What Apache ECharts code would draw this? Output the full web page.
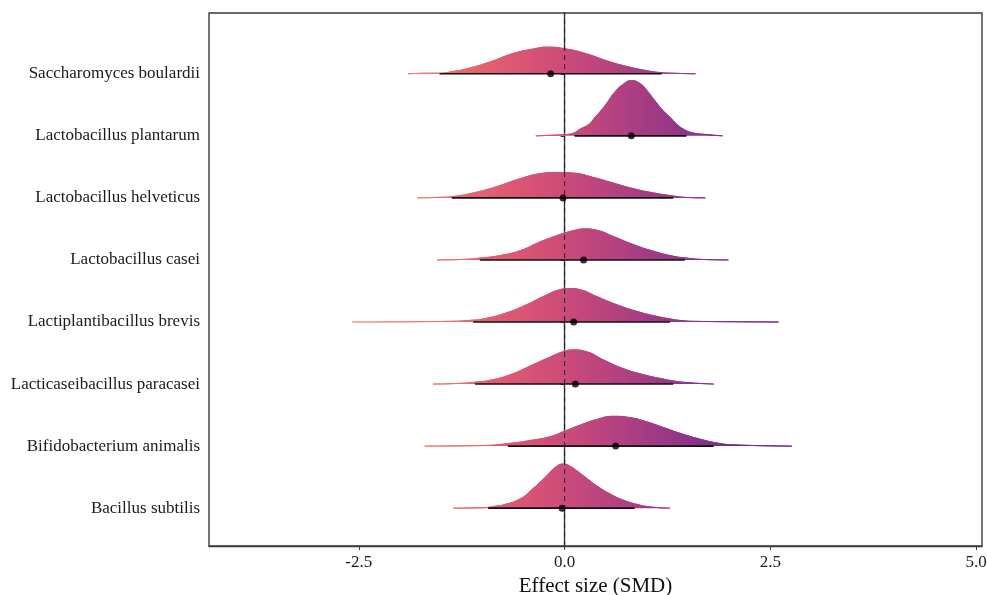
<!DOCTYPE html>
<html>
<head>
<meta charset="utf-8">
<script src="https://cdn.jsdelivr.net/npm/echarts@6/dist/echarts.min.js"></script>
<style>
  html, body { margin: 0; padding: 0; background: #ffffff; }
  #chart { width: 987px; height: 595px; }
</style>
</head>
<body>
<div id="chart"></div>
<script>
// Strains, listed top to bottom
const strains = [
  'Saccharomyces boulardii',
  'Lactobacillus plantarum',
  'Lactobacillus helveticus',
  'Lactobacillus casei',
  'Lactiplantibacillus brevis',
  'Lacticaseibacillus paracasei',
  'Bifidobacterium animalis',
  'Bacillus subtilis'
];

// Point estimate (SMD) and interval bounds per strain
const pointEstimate = [-0.17, 0.81, -0.02, 0.23, 0.11, 0.13, 0.62, -0.03];
const intervalLow   = [-1.52, 0.12, -1.37, -1.03, -1.11, -1.09, -0.69, -0.93];
const intervalHigh  = [1.18, 1.48, 1.32, 1.46, 1.28, 1.32, 1.81, 0.85];

// Density curves: [effect size, height in row units]
const densityBoulardii = [[-1.90,0],[-1.64,0.01],[-1.52,0.01],[-1.35,0.04],[-1.19,0.08],[-0.91,0.19],[-0.62,0.33],[-0.38,0.40],[-0.22,0.43],[0.02,0.40],[0.27,0.32],[0.51,0.21],[0.75,0.12],[1.00,0.05],[1.16,0.02],[1.30,0.01],[1.59,0]];
const densityPlantarum = [[-0.35,0],[-0.16,0.01],[0.00,0.02],[0.10,0.04],[0.19,0.11],[0.30,0.19],[0.37,0.30],[0.45,0.42],[0.53,0.56],[0.60,0.69],[0.70,0.82],[0.81,0.89],[0.92,0.84],[1.00,0.73],[1.10,0.56],[1.20,0.40],[1.28,0.30],[1.36,0.19],[1.44,0.11],[1.55,0.05],[1.73,0.02],[1.92,0]];
const densityHelveticus = [[-1.79,0],[-1.50,0.01],[-1.37,0.02],[-1.11,0.08],[-0.83,0.18],[-0.54,0.31],[-0.30,0.39],[-0.10,0.41],[0.10,0.40],[0.35,0.33],[0.59,0.24],[0.83,0.15],[1.08,0.08],[1.32,0.03],[1.44,0.01],[1.71,0]];
const densityCasei = [[-1.55,0],[-1.21,0.01],[-1.03,0.03],[-0.79,0.07],[-0.54,0.15],[-0.30,0.29],[-0.10,0.39],[0.10,0.47],[0.25,0.50],[0.39,0.48],[0.59,0.38],[0.83,0.25],[1.08,0.14],[1.32,0.06],[1.48,0.03],[1.64,0.01],[1.99,0]];
const densityBrevis = [[-2.58,0],[-1.43,0.01],[-1.11,0.03],[-0.95,0.06],[-0.70,0.15],[-0.46,0.28],[-0.26,0.41],[-0.06,0.52],[0.06,0.54],[0.19,0.52],[0.39,0.41],[0.63,0.28],[0.88,0.17],[1.12,0.09],[1.28,0.05],[1.44,0.02],[1.60,0.01],[2.60,0]];
const densityParacasei = [[-1.60,0],[-1.29,0.01],[-1.09,0.03],[-0.91,0.06],[-0.66,0.15],[-0.42,0.29],[-0.22,0.41],[-0.02,0.52],[0.10,0.55],[0.27,0.52],[0.47,0.39],[0.71,0.25],[0.96,0.15],[1.20,0.08],[1.32,0.05],[1.52,0.02],[1.81,0]];
const densityAnimalis = [[-1.70,0],[-0.97,0.01],[-0.69,0.04],[-0.42,0.09],[-0.18,0.15],[-0.02,0.23],[0.19,0.34],[0.39,0.43],[0.59,0.48],[0.79,0.46],[1.00,0.39],[1.20,0.30],[1.44,0.19],[1.68,0.10],[1.85,0.05],[2.05,0.02],[2.76,0]];
const densitySubtilis = [[-1.35,0],[-0.95,0.01],[-0.85,0.03],[-0.75,0.05],[-0.54,0.15],[-0.38,0.32],[-0.22,0.52],[-0.10,0.67],[-0.02,0.71],[0.06,0.68],[0.23,0.52],[0.39,0.36],[0.55,0.23],[0.71,0.13],[0.88,0.06],[1.04,0.02],[1.28,0]];

const densities = [densityBoulardii, densityPlantarum, densityHelveticus, densityCasei,
                   densityBrevis, densityParacasei, densityAnimalis, densitySubtilis];

// Axis ticks
const xTicks = [-2.5, 0, 2.5, 5];

// Fill colour ramp along the effect-size axis: [effect size, colour]
const colourRamp = [
  [-2.6, '#f59a78'],
  [-1.5, '#ec6e6a'],
  [-0.6, '#dd5672'],
  [0.0,  '#cb4b79'],
  [0.6,  '#b54280'],
  [1.2,  '#9b3986'],
  [1.8,  '#802f88'],
  [2.8,  '#5e2080']
];

const n = strains.length;
const rowPos = i => n - i;   // first strain on top
const serif = '"Liberation Serif", "Times New Roman", serif';

const chart = echarts.init(document.getElementById('chart'));

function buildSeries(fillColour) {
  const series = [];
  densities.forEach((d, i) => {
    const base = rowPos(i);
    series.push({
      type: 'line',
      name: strains[i],
      data: d.map(p => [p[0], base + p[1]]),
      smooth: 0.5,
      symbol: 'none',
      lineStyle: { width: 1, color: fillColour },
      areaStyle: { origin: base, color: fillColour, opacity: 1 },
      z: 2,
      silent: true
    });
  });
  // zero reference line
  series.push({
    type: 'line',
    data: [[0, 0.39], [0, 8.98]],
    symbol: 'none',
    lineStyle: { color: '#222', width: 1, type: [5, 4] },
    z: 4,
    silent: true
  });
  // intervals
  strains.forEach((s, i) => {
    series.push({
      type: 'line',
      data: [[intervalLow[i], rowPos(i)], [intervalHigh[i], rowPos(i)]],
      symbol: 'none',
      lineStyle: { color: '#111', width: 1.6 },
      z: 5,
      silent: true
    });
  });
  // point estimates
  series.push({
    type: 'scatter',
    data: pointEstimate.map((v, i) => [v, rowPos(i)]),
    symbolSize: 7,
    itemStyle: { color: '#000' },
    z: 6,
    silent: true
  });
  return series;
}

const option = {
  animation: false,
  backgroundColor: '#ffffff',
  grid: {
    left: 209, right: 5, top: 13, bottom: 49,
    outerBoundsMode: 'none',
    containLabel: false,
    show: true, borderColor: '#3a3a3a', borderWidth: 1.4, backgroundColor: 'transparent'
  },
  xAxis: {
    type: 'value',
    min: -4.32, max: 5.07,
    splitLine: { show: false },
    axisLine: { show: true, lineStyle: { color: '#3a3a3a', width: 1.4 } },
    axisTick: { show: true, customValues: xTicks, length: 4, lineStyle: { color: '#3a3a3a' } },
    axisLabel: {
      customValues: xTicks,
      formatter: v => v.toFixed(1),
      fontFamily: serif, fontSize: 17, color: '#1a1a1a', margin: 8
    },
    name: 'Effect size (SMD)',
    nameLocation: 'middle',
    nameGap: 23,
    nameTextStyle: { fontFamily: serif, fontSize: 21, color: '#111' }
  },
  yAxis: {
    type: 'value',
    min: 0.39, max: 8.98,
    splitLine: { show: false },
    axisLine: { show: true, lineStyle: { color: '#3a3a3a', width: 1.4 } },
    axisTick: { show: true, customValues: strains.map((s, i) => rowPos(i)), length: 4, lineStyle: { color: '#3a3a3a' } },
    axisLabel: {
      customValues: strains.map((s, i) => rowPos(i)),
      formatter: v => strains[n - Math.round(v)],
      fontFamily: serif, fontSize: 17, color: '#1a1a1a', margin: 9
    }
  },
  series: buildSeries('#c84a79')
};

chart.setOption(option);

// Colour ramp mapped through the x scale into a global horizontal gradient
const x0 = colourRamp[0][0];
const x1 = colourRamp[colourRamp.length - 1][0];
const px0 = chart.convertToPixel({ xAxisIndex: 0 }, x0);
const px1 = chart.convertToPixel({ xAxisIndex: 0 }, x1);
const gradient = new echarts.graphic.LinearGradient(px0, 0, px1, 0,
  colourRamp.map(c => ({ offset: (c[0] - x0) / (x1 - x0), color: c[1] })), true);

option.series = buildSeries(gradient);
chart.setOption(option, true);
</script>
</body>
</html>
